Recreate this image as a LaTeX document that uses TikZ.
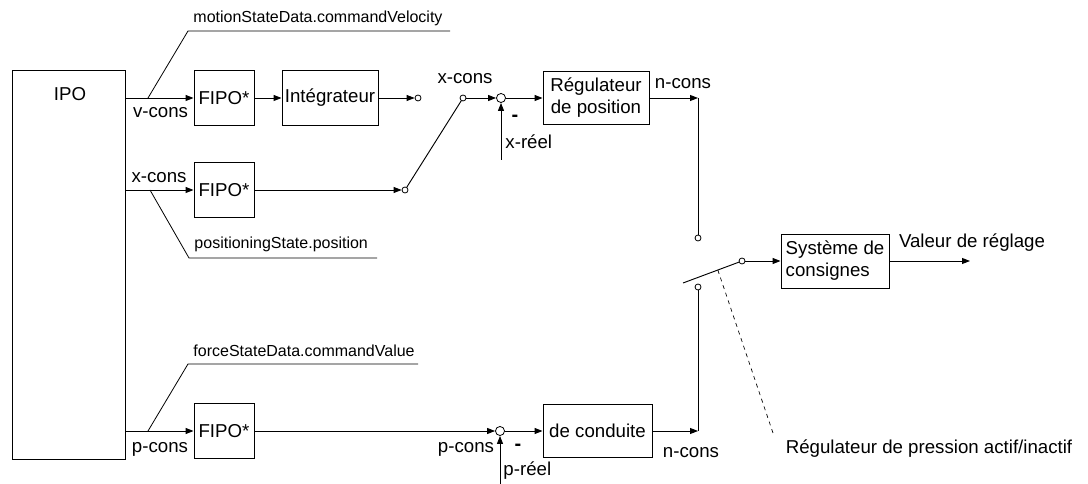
\documentclass[tikz,border=0pt]{standalone}
\usepackage{fontspec}
\setmainfont{Liberation Sans}
\usetikzlibrary{arrows.meta,calc}
\begin{document}
\begin{tikzpicture}[x=0.75pt,y=-0.75pt,
  line width=0.7pt,
  >={Triangle[length=6pt,width=4.5pt]},
  blk/.style 2 args={draw,minimum width=#1*0.75pt,minimum height=#2*0.75pt,
    inner sep=1pt,font=\fontsize{14}{16.5}\selectfont,align=center},
  lbl/.style={font=\fontsize{14}{16}\selectfont,inner sep=0pt},
  minus/.style={font=\fontsize{15}{16}\selectfont\bfseries,inner sep=0pt},
  note/.style={font=\fontsize{12}{14}\selectfont,inner sep=0pt,anchor=west},
  contact/.style={circle,draw,fill=white,minimum size=4.5pt,inner sep=0pt,line width=0.6pt},
  junction/.style={circle,draw,fill=white,minimum size=6.8pt,inner sep=0pt,line width=0.6pt},
  leader/.style={line width=0.6pt},
]
\useasboundingbox (0,0) rectangle (1088,484);

% ---- blocks ----
\node[blk={113}{389}] (ipo) at (68.5,264.5) {};
\node[lbl] (ipot) at (70,94) {IPO};
\node[blk={60}{55}] (fipo1) at (224,98) {FIPO*};
\node[blk={96}{55}] (integ) at (330,98) {Intégrateur};
\node[blk={60}{55}] (fipo2) at (224,190) {FIPO*};
\node[blk={60}{55}] (fipo3) at (224,431) {FIPO*};
\node[blk={106}{53}] (regpos) at (596,98) {Régulateur\\de position};
\node[blk={109}{53}] (cond) at (597.5,431) {de conduite};
\node[blk={108}{54},align=left] (sys) at (835,261) {Système de\\consignes};

% ---- contacts and summing points ----
\node[contact] (cv) at (418,98) {};
\node[contact] (cx) at (405,190) {};
\node[contact] (cxs) at (463,98) {};
\node[junction] (sum1) at (501,98) {};
\node[junction] (sum2) at (500,431) {};
\node[contact] (ctop) at (698,238) {};
\node[contact] (cbot) at (698,287) {};
\node[contact] (ccom) at (742,261) {};

\coordinate (xreel) at (501,160);
\coordinate (preel) at (500,486);
\coordinate (nc1) at (698,98);
\coordinate (nc2) at (698,431);
\coordinate (bladeend) at (683,283);
\coordinate (out) at (970,261);
\coordinate (dashend) at (773,433);

% ---- signal flow ----
\draw[->] (fipo1.west -| ipo.east) -- (fipo1.west);
\draw[->] (fipo1) -- (integ);
\draw[->] (integ) -- (cv);
\draw[->] (fipo2.west -| ipo.east) -- (fipo2.west);
\draw[->] (fipo2) -- (cx);
\draw (cxs) -- (cx);
\draw[->] (cxs) -- (sum1);
\draw[->] (sum1) -- (regpos);
\draw[->] (xreel) -- (sum1.south);
\draw[->] (regpos) -- (nc1);
\draw (nc1) -- (ctop);

\draw[->] (fipo3.west -| ipo.east) -- (fipo3.west);
\draw[->] (fipo3) -- (sum2);
\draw[->] (preel) -- (sum2.south);
\draw[->] (sum2) -- (cond);
\draw[->] (cond) -- (nc2);
\draw (nc2) -- (cbot);

\draw (ccom) -- (bladeend);
\draw[->] (ccom) -- (ccom -| sys.west);
\draw[->] (sys) -- (out);
\draw[line width=0.5pt,dash pattern=on 3pt off 3pt]
  ($(ccom.center)!0.41!(bladeend)$) -- (dashend);

% ---- data leaders ----
\draw[leader] (148,98) -- (188,31) -- (450,31);
\draw[leader] (150,190) -- (189,258) -- (377,258);
\draw[leader] (148,431) -- (188,364) -- (418,364);
\node[note] (nv) at (193,18) {motionStateData.commandVelocity};
\node[note] (np) at (194,244) {positioningState.position};
\node[note] (nf) at (193,351) {forceStateData.commandValue};

% ---- signal labels ----
\node[lbl] (lv) at (160.5,113) {v-cons};
\node[lbl] (lx) at (159,178) {x-cons};
\node[lbl] (lp) at (160,449) {p-cons};
\node[lbl] (lx2) at (465,79) {x-cons};
\node[minus] (m1) at (515,118) {-};
\node[lbl,anchor=west] (lxr) at (505,142) {x-réel};
\node[lbl] (ln1) at (683,84) {n-cons};
\node[lbl] (lp2) at (466,449) {p-cons};
\node[minus] (m2) at (518,447) {-};
\node[lbl,anchor=west] (lpr) at (503,471) {p-réel};
\node[lbl] (ln2) at (691,453) {n-cons};
\node[lbl] (lout) at (972,243) {Valeur de réglage};
\node[lbl] (lpa) at (929,449) {Régulateur de pression actif/inactif};
\end{tikzpicture}
\end{document}
